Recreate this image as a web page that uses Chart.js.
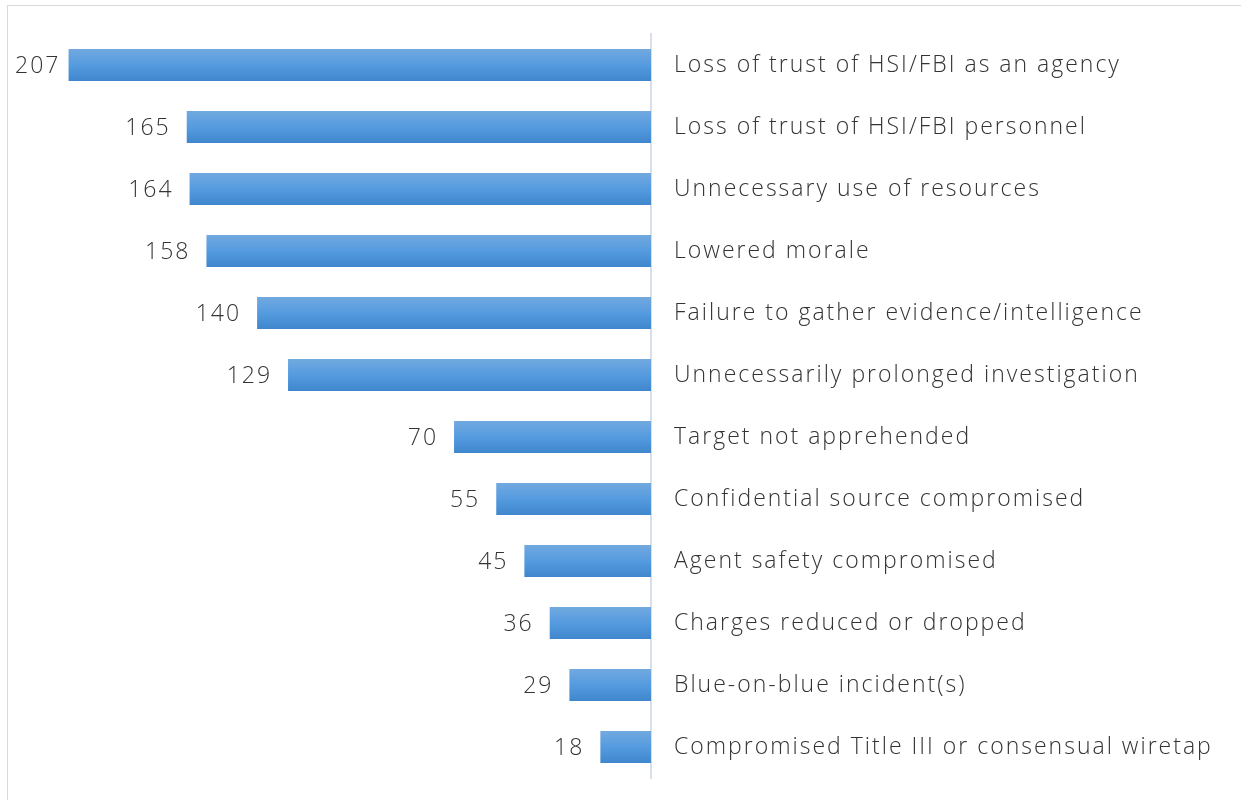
<!DOCTYPE html>
<html>
<head>
<meta charset="utf-8">
<script src="https://cdn.jsdelivr.net/npm/chart.js@4.4.1/dist/chart.umd.min.js"></script>
<style>
  html, body { margin: 0; padding: 0; background: #fff; }
  #wrap { position: relative; width: 1241px; height: 800px; overflow: hidden; }
  #frame { position: absolute; left: 7px; top: 5px; width: 1240px; height: 800px; border: 1.5px solid #d9d9d9; box-sizing: border-box; }
  canvas { position: absolute; left: 0; top: 0; }
</style>
</head>
<body>
<div id="wrap">
  <div id="frame"></div>
  <canvas id="impactChart" width="1241" height="800"></canvas>
</div>
<script>
const categories = [
  'Loss of trust of HSI/FBI as an agency',
  'Loss of trust of HSI/FBI personnel',
  'Unnecessary use of resources',
  'Lowered morale',
  'Failure to gather evidence/intelligence',
  'Unnecessarily prolonged investigation',
  'Target not apprehended',
  'Confidential source compromised',
  'Agent safety compromised',
  'Charges reduced or dropped',
  'Blue-on-blue incident(s)',
  'Compromised Title III or consensual wiretap'
];
const counts = [207, 165, 164, 158, 140, 129, 70, 55, 45, 36, 29, 18];

const FONT = '"Open Sans", "DejaVu Sans", sans-serif';
const TEXT = '#333333';
const SPACING = '2px';

// vertical gradient per bar, lighter at the top
function barFill(ctx) {
  const chart = ctx.chart;
  const yScale = chart.scales.y;
  if (!yScale || ctx.dataIndex === undefined) return '#559be0';
  const yc = yScale.getPixelForValue(ctx.dataIndex);
  if (!isFinite(yc)) return '#559be0';
  const g = chart.ctx.createLinearGradient(0, yc - 16, 0, yc + 16);
  g.addColorStop(0, '#72a9df');
  g.addColorStop(0.5, '#559be0');
  g.addColorStop(1, '#3f86cc');
  return g;
}

// wide letter spacing like the original
const spacing = {
  id: 'spacing',
  beforeDraw(chart) { chart.ctx.letterSpacing = SPACING; }
};

const valueLabels = {
  id: 'valueLabels',
  afterDatasetsDraw(chart) {
    const c = chart.ctx;
    const meta = chart.getDatasetMeta(0);
    c.save();
    c.font = '300 23px ' + FONT;
    c.letterSpacing = SPACING;
    c.fillStyle = TEXT;
    c.textAlign = 'right';
    c.textBaseline = 'middle';
    meta.data.forEach((bar, i) => {
      const txt = String(counts[i]);
      const w = c.measureText(txt).width;
      const x = Math.max(bar.x - 16, w + 15);
      c.fillText(txt, x, bar.y + 1);
    });
    c.restore();
  }
};

const ctx = document.getElementById('impactChart').getContext('2d');
new Chart(ctx, {
  type: 'bar',
  data: {
    labels: categories,
    datasets: [{
      data: counts,
      backgroundColor: barFill,
      borderWidth: 0,
      barPercentage: 0.52,
      categoryPercentage: 1
    }]
  },
  options: {
    indexAxis: 'y',
    responsive: false,
    animation: false,
    layout: { padding: { left: 32, right: 0, top: 34, bottom: 22 } },
    plugins: {
      legend: { display: false },
      tooltip: { enabled: false }
    },
    scales: {
      x: {
        display: false,
        reverse: true,
        min: 0,
        max: 220
      },
      y: {
        position: 'right',
        grid: { display: false, drawTicks: false },
        border: { display: true, color: '#d9dfe8', width: 2 },
        ticks: {
          padding: 23,
          color: TEXT,
          font: { family: FONT, size: 23, weight: '300' },
          crossAlign: 'near'
        },
        afterFit(scale) {
          scale.width = 590;
          scale.paddingTop = 0;
          scale.paddingBottom = 0;
        }
      }
    }
  },
  plugins: [spacing, valueLabels]
});
</script>
</body>
</html>
